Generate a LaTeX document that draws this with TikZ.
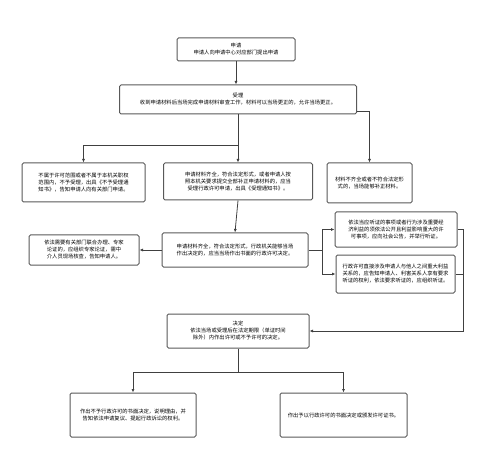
\documentclass[tikz,border=0pt]{standalone}
\usepackage{fontspec}
\newfontfamily\cjk{Noto Sans CJK SC}
\XeTeXlinebreaklocale "zh"
\XeTeXlinebreakskip=0pt
\usetikzlibrary{arrows.meta}

\begin{document}
\begin{tikzpicture}[
  x=1pt, y=-1pt,
  box/.style={draw=black!65, line width=1pt, rounded corners=1.5pt, fill=white,
    inner sep=3pt, font=\cjk\fontsize{5.3}{7}\selectfont},
  flow/.style={-{Latex[length=3.5pt,width=3pt]}, line width=0.8pt, draw=black!75},
  line/.style={line width=0.8pt, draw=black!75},
  every node/.style={align=center}]

\useasboundingbox (0,0) rectangle (500,462);

% Position the nodes at pixel coordinates of the layout
\node[box, text width=112pt, minimum height=23pt] (apply) at (236,49.5)
  {申请\\申请人向申请中心对应部门提出申请};
\node[box, text width=231pt, minimum height=29pt] (accept) at (238,99.5)
  {受理\\收到申请材料后当场完成申请材料审查工作，材料可以当场更正的，允许当场更正。};

\node[box, text width=117pt, minimum height=39pt] (reject) at (83.5,182.5)
  {不属于许可范围或者不属于本机关职权范围内，不予受理，出具《不予受理通知书》，告知申请人向有关部门申请。};
\node[box, text width=143pt, minimum height=37pt] (accepted) at (238,181.5)
  {申请材料齐全，符合法定形式，或者申请人按照本机关要求提交全部补正申请材料的，应当受理行政许可申请，出具《受理通知书》。};
\node[box, text width=79pt, minimum height=40pt] (correct) at (369.5,183)
  {材料不齐全或者不符合法定形式的，当场能够补正材料。};

\node[box, text width=104pt, minimum height=30pt] (expert) at (84,250)
  {依法需要有关部门联合办理、专家论证的，应组织专家论证，需中介人员现场核查，告知申请人。};
\node[box, text width=140pt, minimum height=34pt] (onsite) at (235,250)
  {申请材料齐全，符合法定形式，行政机关能够当场作出决定的，应当当场作出书面的行政许可决定。};
\node[box, text width=116pt, minimum height=35pt] (hearing) at (396,229.5)
  {依法当应听证的事项或者行为涉及重要经济利益的须依法公开且利益影响重大的许可事项，应向社会公告，并举行听证。};
\node[box, text width=113pt, minimum height=38pt] (notice) at (395.5,274)
  {行政许可直接涉及申请人与他人之间重大利益关系的，应告知申请人、利害关系人享有要求听证的权利，依法要求听证的，应组织听证。};

\node[box, text width=136pt, minimum height=34pt] (decide) at (238,331)
  {决定\\依法当场或受理后在法定期限（单证时间除外）内作出许可或不予许可的决定。};

\node[box, text width=120pt, minimum height=44pt] (deny) at (133,415)
  {作出不予行政许可的书面决定，说明理由，并告知依法申请复议、提起行政诉讼的权利。};
\node[box, text width=121pt, minimum height=44pt] (grant) at (343.5,415)
  {作出予以行政许可的书面决定或颁发许可证书。};

% Junction points of the connectors
\coordinate (split) at (238,145);
\coordinate (acceptR) at (357,111);
\coordinate (busL) at (322,250);
\coordinate (busR) at (463,331);
\coordinate (fork) at (238,372);

% Draw the arrows between the nodes
\draw[flow] (apply.south) -- (apply.south |- accept.north);
\draw[flow] (accept.south) -- (accepted.north);
\draw[flow] (split) -| (reject.north);
\draw[flow] (acceptR) -| (correct.north);
\draw[flow] (accepted.south) -- (onsite.north);
\draw[flow] (onsite.west) -- (expert.east);
\draw[line] (onsite.east) -- (busL);
\draw[flow] (busL) |- (hearing.west);
\draw[flow] (busL) |- (notice.west);
\draw[flow] (hearing.east) -| (busR) -- (decide.east);
\draw[line] (notice.east) -- (notice.east -| busR);
\draw[line] (decide.south) -- (fork);
\draw[flow] (fork) -| (deny.north);
\draw[flow] (fork) -| (grant.north);

\end{tikzpicture}
\end{document}
